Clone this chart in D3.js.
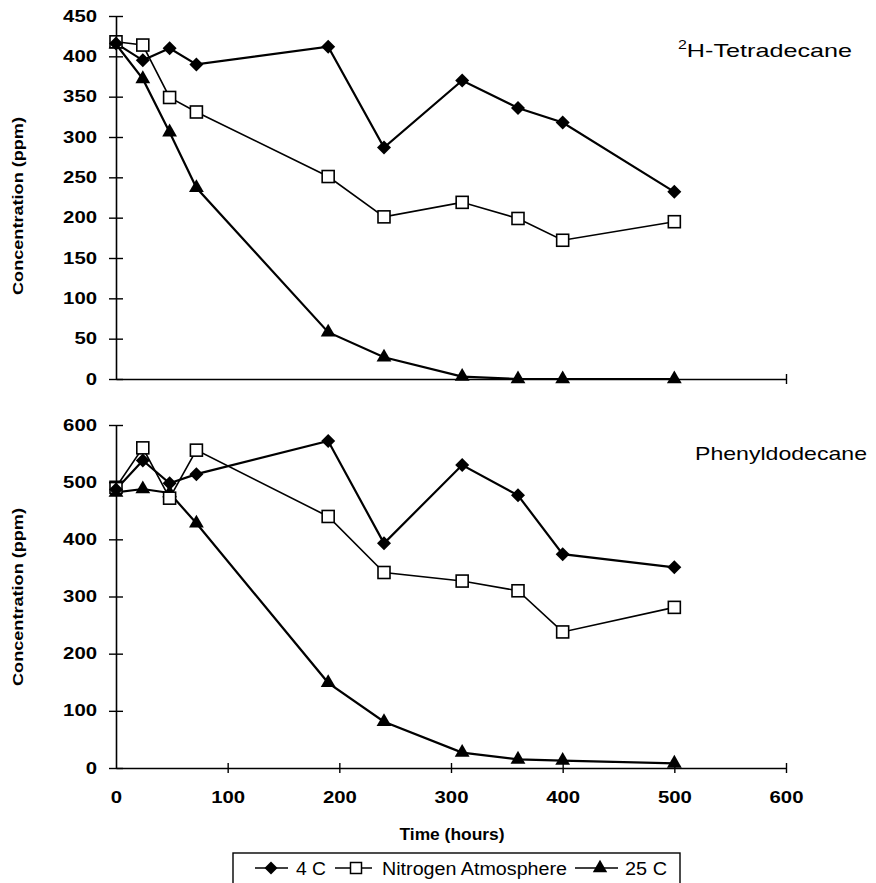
<!DOCTYPE html>
<html>
<head>
<meta charset="utf-8">
<script src="https://cdn.jsdelivr.net/npm/d3@7"></script>
<style>
  html, body { margin: 0; padding: 0; background: #fff; }
  svg { display: block; }
  text { font-family: "Liberation Sans", Arial, Helvetica, sans-serif; fill: #000; }
</style>
</head>
<body>
<svg id="chart" width="876" height="883"></svg>
<script>
// ---------------- data ----------------
const times = [0, 24, 48, 72, 190, 240, 310, 360, 400, 500];

const tetra4C  = [416, 395, 410, 390, 412, 287, 370, 336, 318, 232];
const tetraN2  = [418, 414, 349, 331, 251, 201, 219, 199, 172, 195];
const tetra25C = [415, 372, 306, 237, 58, 27, 3, 0, 0, 0];

const phenyl4C  = [487, 538, 498, 514, 572, 393, 530, 477, 374, 351];
const phenylN2  = [491, 560, 472, 556, 440, 342, 327, 310, 238, 281];
const phenyl25C = [482, 488, 481, 428, 149, 81, 27, 15, 13, 8];

const xTicks = [0, 100, 200, 300, 400, 500, 600];
const yTicksTop = [0, 50, 100, 150, 200, 250, 300, 350, 400, 450];
const yTicksBottom = [0, 100, 200, 300, 400, 500, 600];

const seriesNames = ["4 C", "Nitrogen Atmosphere", "25 C"];
const panelTitles = ["H-Tetradecane", "Phenyldodecane"];

// ---------------- setup ----------------
const svg = d3.select("#chart");
const STRETCH = 1.27;
function stretch(sel, f) {
  sel.each(function () {
    const w = this.getComputedTextLength();
    d3.select(this).attr("textLength", w * (f || STRETCH)).attr("lengthAdjust", "spacingAndGlyphs");
  });
}

const x = d3.scaleLinear().domain([0, 600]).range([116, 786]);
const yTop = d3.scaleLinear().domain([0, 450]).range([379, 16]);
const yBot = d3.scaleLinear().domain([0, 600]).range([768, 425]);

function yAxis(scale, ticks) {
  const g = svg.append("g").attr("transform", `translate(${x(0)},0)`)
    .call(d3.axisLeft(scale).tickValues(ticks).tickSizeOuter(0).tickSizeInner(7).tickPadding(12));
  g.select(".domain").attr("stroke", "#000").attr("stroke-width", 1.6);
  g.selectAll(".tick line").attr("x1", -7).attr("x2", 7).attr("stroke", "#000").attr("stroke-width", 1.4);
  g.selectAll(".tick text").attr("font-size", 16).attr("font-weight", "bold")
    .attr("font-family", "Liberation Sans, Arial, sans-serif").attr("fill", "#000");
  g.selectAll(".tick text").call(stretch);
  return g;
}

function xAxis(yPos, showLabels, ticks) {
  const ax = d3.axisBottom(x).tickValues(ticks).tickSizeOuter(0).tickSizeInner(5);
  if (!showLabels) ax.tickFormat("");
  const g = svg.append("g").attr("transform", `translate(0,${yPos})`).call(ax);
  g.select(".domain").attr("stroke", "#000").attr("stroke-width", 1.6);
  g.selectAll(".tick line").attr("y1", -5).attr("y2", 5).attr("stroke", "#000").attr("stroke-width", 1.4);
  g.selectAll(".tick").filter(d => d === 0).select("line").remove();
  if (showLabels) {
    g.selectAll(".tick text").attr("y", 24).attr("dy", "0.71em").attr("font-size", 16)
      .attr("font-weight", "bold").attr("font-family", "Liberation Sans, Arial, sans-serif").attr("fill", "#000");
    g.selectAll(".tick text").call(stretch);
  }
  return g;
}

function diamondPath(cx, cy, r) {
  return `M${cx},${cy - r}L${cx + r},${cy}L${cx},${cy + r}L${cx - r},${cy}Z`;
}

function drawSeries(yScale, vals4, valsN, vals25) {
  const make = v => times.map((t, i) => ({ t, v: v[i] }));
  const line = d3.line().x(d => x(d.t)).y(d => yScale(d.v));
  const d4 = make(vals4), dN = make(valsN), d25 = make(vals25);

  svg.append("path").datum(dN).attr("d", line).attr("fill", "none").attr("stroke", "#000").attr("stroke-width", 1.6);
  svg.append("path").datum(d25).attr("d", line).attr("fill", "none").attr("stroke", "#000").attr("stroke-width", 2.2);
  svg.append("path").datum(d4).attr("d", line).attr("fill", "none").attr("stroke", "#000").attr("stroke-width", 2.2);

  svg.append("g").selectAll("path").data(d25).join("path")
    .attr("d", d3.symbol().type(d3.symbolTriangle).size(95))
    .attr("transform", d => `translate(${x(d.t)},${yScale(d.v)})`)
    .attr("fill", "#000");
  svg.append("g").selectAll("rect").data(dN).join("rect")
    .attr("x", d => x(d.t) - 6).attr("y", d => yScale(d.v) - 6)
    .attr("width", 12).attr("height", 12)
    .attr("fill", "#fff").attr("stroke", "#000").attr("stroke-width", 1.6);
  svg.append("g").selectAll("path").data(d4).join("path")
    .attr("d", d => diamondPath(x(d.t), yScale(d.v), 7))
    .attr("fill", "#000");
}

// ---------------- top panel ----------------
drawSeries(yTop, tetra4C, tetraN2, tetra25C);
yAxis(yTop, yTicksTop);
xAxis(yTop(0), false, [600]);

// ---------------- bottom panel ----------------
drawSeries(yBot, phenyl4C, phenylN2, phenyl25C);
yAxis(yBot, yTicksBottom);
xAxis(yBot(0), true, xTicks);

// ---------------- titles ----------------
const t1 = svg.append("text").attr("x", 678).attr("y", 57).attr("font-size", 19)
  .attr("textLength", 174).attr("lengthAdjust", "spacingAndGlyphs");
t1.append("tspan").attr("font-size", 12).attr("dy", -8).text("2");
t1.append("tspan").attr("dy", 8).text(panelTitles[0]);

svg.append("text").attr("x", 695).attr("y", 460).attr("font-size", 19)
  .attr("textLength", 172).attr("lengthAdjust", "spacingAndGlyphs")
  .text(panelTitles[1]);

// y axis titles
[[18, 206], [18, 597]].forEach(([cx, cy]) => {
  svg.append("text")
    .attr("transform", `translate(${cx + 5},${cy}) rotate(-90)`)
    .attr("text-anchor", "middle")
    .attr("font-size", 15).attr("font-weight", "bold")
    .attr("textLength", 178).attr("lengthAdjust", "spacingAndGlyphs")
    .text("Concentration (ppm)");
});

// x axis title
svg.append("text").attr("x", 452).attr("y", 840).attr("text-anchor", "middle")
  .attr("font-size", 16).attr("font-weight", "bold")
  .attr("textLength", 105).attr("lengthAdjust", "spacingAndGlyphs")
  .text("Time (hours)");

// ---------------- legend ----------------
const lg = svg.append("g");
lg.append("rect").attr("x", 233).attr("y", 853).attr("width", 447).attr("height", 40)
  .attr("fill", "none").attr("stroke", "#000").attr("stroke-width", 1.4);
const ly = 868;
const legendItems = [
  { name: seriesNames[0], x1: 255, x2: 288, mx: 271, tx: 296, len: 30, type: "diamond" },
  { name: seriesNames[1], x1: 335, x2: 372, mx: 356, tx: 382, len: 185, type: "square" },
  { name: seriesNames[2], x1: 575, x2: 618, mx: 600, tx: 625, len: 42, type: "triangle" }
];
legendItems.forEach(it => {
  lg.append("line").attr("x1", it.x1).attr("x2", it.x2).attr("y1", ly).attr("y2", ly)
    .attr("stroke", "#000").attr("stroke-width", 1.6);
  if (it.type === "diamond") {
    lg.append("path").attr("d", diamondPath(it.mx, ly, 6.5)).attr("fill", "#000");
  } else if (it.type === "square") {
    lg.append("rect").attr("x", it.mx - 5.5).attr("y", ly - 5.5).attr("width", 11).attr("height", 11)
      .attr("fill", "#fff").attr("stroke", "#000").attr("stroke-width", 1.5);
  } else {
    lg.append("path").attr("d", d3.symbol().type(d3.symbolTriangle).size(90))
      .attr("transform", `translate(${it.mx},${ly})`).attr("fill", "#000");
  }
  lg.append("text").attr("x", it.tx).attr("y", 875).attr("font-size", 18)
    .attr("textLength", it.len).attr("lengthAdjust", "spacingAndGlyphs")
    .text(it.name);
});
</script>
</body>
</html>
